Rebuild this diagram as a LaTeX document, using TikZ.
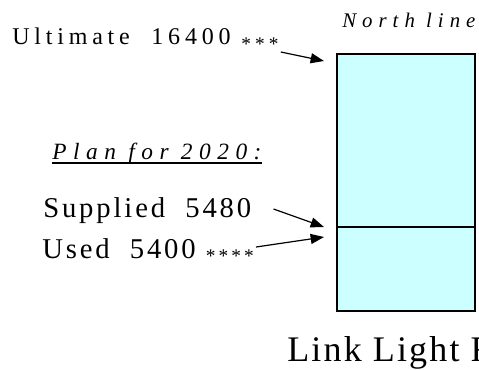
\documentclass[tikz,border=0pt]{standalone}
\usepackage{fontspec}
\setmainfont{Liberation Serif}
\usepackage{xcolor}
\usetikzlibrary{arrows.meta, positioning}
\definecolor{BoxCyan}{RGB}{204, 255, 255}
\newcommand{\stars}[3]{\raisebox{#2}{\fontsize{14.5}{15}\selectfont\addfontfeature{LetterSpace=#3}#1}}
\tikzset{
  lbl/.style={inner sep=0pt, anchor=base west, text=black},
  boxpart/.style={rectangle, draw=black, line width=1.2pt, fill=BoxCyan,
    outer sep=0pt, minimum width=103.5pt},
  arr/.style={-{Triangle[length=10pt, width=7.5pt]}, line width=0.9pt},
}

\begin{document}
\begin{tikzpicture}[x=0.75pt, y=-0.75pt]
  \useasboundingbox (0,0) rectangle (479,369);
  \clip (0,0) rectangle (479,369);
  % the line box, split at the plan level
  \node[boxpart, minimum height=129.75pt] (upper) at (406,140.5) {};
  \node[boxpart, minimum height=63pt, below=0pt of upper] (lower) {};

  \node[lbl, font=\itshape\fontsize{15.6}{17}\selectfont] (north) at (342,27)
    {\addfontfeature{LetterSpace=29}North line};
  \node[lbl, font=\fontsize{18}{20}\selectfont] (ult) at (12,44)
    {\addfontfeature{LetterSpace=20}Ultimate\ \ 16400\ \stars{***}{-4.8pt}{21}};

  \node[lbl, font=\itshape\fontsize{17.5}{19}\selectfont] (plan) at (52,159)
    {\addfontfeature{LetterSpace=28}Plan for 2020:};
  \draw[line width=0.9pt] ([yshift=-3pt]plan.base west) -- ([yshift=-3pt]plan.base east);
  \node[lbl, font=\fontsize{21.5}{23}\selectfont] (sup) at (43,217)
    {\addfontfeature{LetterSpace=10}Supplied\ \ 5480};
  \node[lbl, font=\fontsize{21.5}{23}\selectfont] (used) at (42,258)
    {\addfontfeature{LetterSpace=10}Used\ \ 5400 \stars{****}{-3.3pt}{16}};

  \node[lbl, font=\fontsize{27}{29}\selectfont] (link) at (287,361)
    {\addfontfeature{LetterSpace=6}Link Light Rail};

  \coordinate (ultTip) at (324,61);
  \coordinate (supTip) at (324,227);
  \coordinate (usedTip) at (324,237);
  \draw[arr] ([shift={(2,8)}]ult.base east) -- (ultTip);
  \draw[arr] ([shift={(22,-8)}]sup.base east) -- (supTip);
  \draw[arr] ([shift={(2,-11)}]used.base east) -- (usedTip);
\end{tikzpicture}
\end{document}
